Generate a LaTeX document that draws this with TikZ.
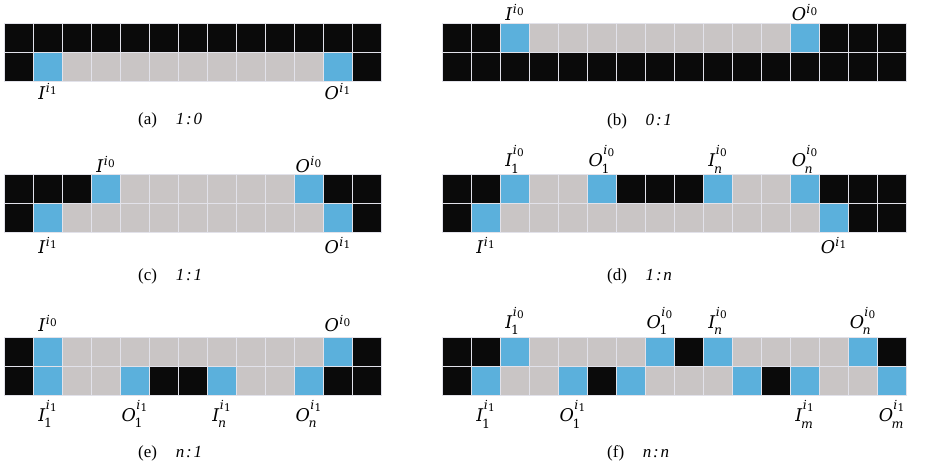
\documentclass[tikz,border=0pt]{standalone}
\usepackage{fontspec}
\setmainfont{Liberation Serif}
\newfontfamily\labfont{DejaVu Serif}
\definecolor{cK}{HTML}{0A0A0A}
\definecolor{cB}{HTML}{5BB0DC}
\definecolor{cG}{HTML}{C9C5C5}
\definecolor{gridline}{HTML}{E2E2EA}
\tikzset{
  cell/.style={draw=gridline, line width=0.8pt, minimum width=29pt, minimum height=29pt,
    inner sep=0pt, outer sep=0pt, anchor=north west},
  lab/.style={inner sep=0pt},
  captext/.style={inner sep=0pt, anchor=base west, font=\fontsize{17}{19}\selectfont},
}
% superscript i with a digit index, raised by #1
\newcommand\supi[2]{\hbox{\kern0.3pt\raisebox{#1}{\labfont\fontsize{12.5}{13}\selectfont\itshape i\/\kern0.2pt\raisebox{-2pt}{\fontsize{10.5}{11}\selectfont\upshape #2}}}}
% #1 main letter, #2 subscript (may be empty), #3 digit under the superscript i
\newcommand\lbl[3]{%
  \hbox{\labfont\fontsize{17.5}{20}\selectfont\itshape #1\/}%
  \if\relax\detokenize{#2}\relax
    \supi{7pt}{#3}%
  \else
    \setbox2=\supi{12pt}{#3}%
    \setbox0=\hbox{\kern-1.5pt\raisebox{-6.5pt}{\labfont\fontsize{12.5}{13}\selectfont #2}}%
    \ifdim\wd0>\wd2 \rlap{\box2}\box0 \else \rlap{\box0}\box2 \fi
  \fi}
\newcommand\ratio[2]{\textit{#1\kern1.8pt:\kern1.8pt#2}}
\newcommand\cellrow[4]{%
  \foreach \c [count=\i from 0] in {#4} {
    \node[cell, fill=c\c] (#1-\i) at ({#2+29*\i},{#3}) {};
  }}
\begin{document}
\begin{tikzpicture}[x=1pt,y=-1pt]
\useasboundingbox (0,0) rectangle (928,470);
% (a) 1:0
\cellrow{a1}{4}{23}{K,K,K,K,K,K,K,K,K,K,K,K,K}
\cellrow{a2}{4}{52}{K,B,G,G,G,G,G,G,G,G,G,B,K}
\node[lab, anchor=north] (aI1) at ([yshift=-2.5pt]a2-1.south) {\lbl{I}{}{1}};
\node[lab, anchor=north] (aO1) at ([yshift=-2.5pt]a2-11.south) {\lbl{O}{}{1}};
\node[captext] (capa) at (138,125) {(a)\hspace{1.1em}\ratio{1}{0}};
% (b) 0:1
\cellrow{b1}{442}{23}{K,K,B,G,G,G,G,G,G,G,G,G,B,K,K,K}
\cellrow{b2}{442}{52}{K,K,K,K,K,K,K,K,K,K,K,K,K,K,K,K}
\node[lab, anchor=south] (bI0) at ([yshift=2pt]b1-2.north) {\lbl{I}{}{0}};
\node[lab, anchor=south] (bO0) at ([yshift=2pt]b1-12.north) {\lbl{O}{}{0}};
\node[captext] (capb) at (607,126) {(b)\hspace{1.1em}\ratio{0}{1}};
% (c) 1:1
\cellrow{c1}{4}{174}{K,K,K,B,G,G,G,G,G,G,B,K,K}
\cellrow{c2}{4}{203}{K,B,G,G,G,G,G,G,G,G,G,B,K}
\node[lab, anchor=south] (cI0) at ([yshift=1pt]c1-3.north) {\lbl{I}{}{0}};
\node[lab, anchor=south] (cO0) at ([yshift=1pt]c1-10.north) {\lbl{O}{}{0}};
\node[lab, anchor=north] (cI1) at ([yshift=-5.5pt]c2-1.south) {\lbl{I}{}{1}};
\node[lab, anchor=north] (cO1) at ([yshift=-5.5pt]c2-11.south) {\lbl{O}{}{1}};
\node[captext] (capc) at (138,280) {(c)\hspace{1.1em}\ratio{1}{1}};
% (d) 1:n
\cellrow{d1}{442}{174}{K,K,B,G,G,B,K,K,K,B,G,G,B,K,K,K}
\cellrow{d2}{442}{203}{K,B,G,G,G,G,G,G,G,G,G,G,G,B,K,K}
\node[lab, anchor=south] (dI10) at ([yshift=0.5pt]d1-2.north) {\lbl{I}{1}{0}};
\node[lab, anchor=south] (dO10) at ([yshift=0.5pt]d1-5.north) {\lbl{O}{1}{0}};
\node[lab, anchor=south] (dIn0) at ([yshift=0.5pt]d1-9.north) {\lbl{I}{\itshape n}{0}};
\node[lab, anchor=south] (dOn0) at ([yshift=0.5pt]d1-12.north) {\lbl{O}{\itshape n}{0}};
\node[lab, anchor=north] (dI1) at ([yshift=-5pt]d2-1.south) {\lbl{I}{}{1}};
\node[lab, anchor=north] (dO1) at ([yshift=-5pt]d2-13.south) {\lbl{O}{}{1}};
\node[captext] (capd) at (607,280) {(d)\hspace{1.1em}\ratio{1}{n}};
% (e) n:1
\cellrow{e1}{4}{337}{K,B,G,G,G,G,G,G,G,G,G,B,K}
\cellrow{e2}{4}{366}{K,B,G,G,B,K,K,B,G,G,B,K,K}
\node[lab, anchor=south] (eI0) at ([yshift=5pt]e1-1.north) {\lbl{I}{}{0}};
\node[lab, anchor=south] (eO0) at ([yshift=5pt]e1-11.north) {\lbl{O}{}{0}};
\node[lab, anchor=north] (eI11) at ([yshift=-5pt]e2-1.south) {\lbl{I}{1}{1}};
\node[lab, anchor=north] (eO11) at ([yshift=-5pt]e2-4.south) {\lbl{O}{1}{1}};
\node[lab, anchor=north] (eIn1) at ([yshift=-5pt]e2-7.south) {\lbl{I}{\itshape n}{1}};
\node[lab, anchor=north] (eOn1) at ([yshift=-5pt]e2-10.south) {\lbl{O}{\itshape n}{1}};
\node[captext] (cape) at (138,457) {(e)\hspace{1.1em}\ratio{n}{1}};
% (f) n:n
\cellrow{f1}{442}{337}{K,K,B,G,G,G,G,B,K,B,G,G,G,G,B,K}
\cellrow{f2}{442}{366}{K,B,G,G,B,K,B,G,G,G,B,K,B,G,G,B}
\node[lab, anchor=south] (fI10) at ([yshift=2pt]f1-2.north) {\lbl{I}{1}{0}};
\node[lab, anchor=south] (fO10) at ([yshift=2pt]f1-7.north) {\lbl{O}{1}{0}};
\node[lab, anchor=south] (fIn0) at ([yshift=2pt]f1-9.north) {\lbl{I}{\itshape n}{0}};
\node[lab, anchor=south] (fOn0) at ([yshift=2pt]f1-14.north) {\lbl{O}{\itshape n}{0}};
\node[lab, anchor=north] (fI11) at ([yshift=-5.5pt]f2-1.south) {\lbl{I}{1}{1}};
\node[lab, anchor=north] (fO11) at ([yshift=-5.5pt]f2-4.south) {\lbl{O}{1}{1}};
\node[lab, anchor=north] (fIm1) at ([yshift=-5.5pt]f2-12.south) {\lbl{I}{\itshape m}{1}};
\node[lab, anchor=north] (fOm1) at ([yshift=-5.5pt]f2-15.south) {\lbl{O}{\itshape m}{1}};
\node[captext] (capf) at (607,457) {(f)\hspace{1.1em}\ratio{n}{n}};
\end{tikzpicture}
\end{document}
